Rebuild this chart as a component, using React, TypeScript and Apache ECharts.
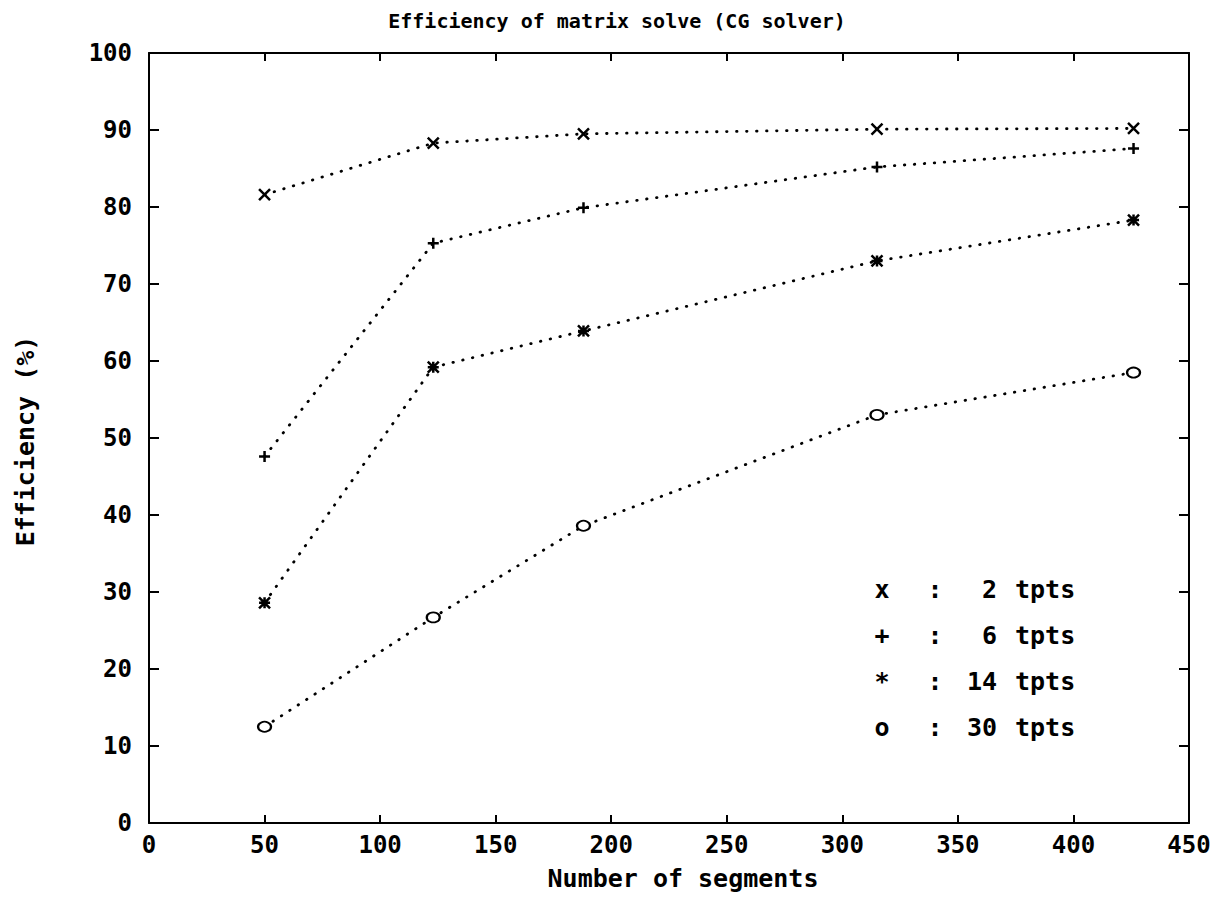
import React, { useEffect, useRef } from "react";
import * as echarts from "echarts";

const segments = [50, 123, 188, 315, 426];
const eff2 = [81.6, 88.3, 89.5, 90.1, 90.2];
const eff6 = [47.6, 75.3, 79.9, 85.2, 87.6];
const eff14 = [28.6, 59.2, 63.9, 73.0, 78.3];
const eff30 = [12.5, 26.7, 38.6, 53.0, 58.5];

const xTicks = { min: 0, max: 450, interval: 50 };
const yTicks = { min: 0, max: 100, interval: 10 };

const legendRows = [
  { sym: "x", n: "2" },
  { sym: "+", n: "6" },
  { sym: "*", n: "14" },
  { sym: "o", n: "30" },
];

const FONT = "DejaVu Sans Mono";

const SYM_X = "path://M0,0L10,10M10,0L0,10";
const SYM_PLUS = "path://M5,0L5,10M0,5L10,5";
const SYM_STAR = "path://M0,0L10,10M10,0L0,10M0,5L10,5M5,0L5,10";

export default function App() {
  const ref = useRef<HTMLDivElement>(null);
  useEffect(() => {
    if (!ref.current) return;
    const chart = echarts.init(ref.current, null, { renderer: "svg" });
    const black = "#000";
    const axisLine = { show: true, onZero: false, lineStyle: { color: black, width: 2 } };
    const tickStyle = { color: black, width: 2 };
    const labelStyle = { fontFamily: FONT, fontWeight: "bold" as const, fontSize: 24, color: black };
    const mk = (vals: number[], symbol: string, size: any) => ({
      type: "line",
      data: segments.map((s, i) => [s, vals[i]]),
      symbol,
      symbolSize: size,
      showAllSymbol: true,
      lineStyle: { color: black, width: 2.8, type: [0.5, 9.5], cap: "round" },
      itemStyle: {
        color: black,
        borderColor: black,
        borderWidth: 2.5,
      },
      z: 3,
    });
    const legendGraphics: any[] = [];
    legendRows.forEach((r, i) => {
      const y = 589 + i * 46;
      const st = { fontFamily: FONT, fontWeight: "bold", fontSize: 25, fill: black, verticalAlign: "middle" };
      legendGraphics.push({ type: "text", x: 882, y, style: { ...st, text: r.sym, align: "center" } });
      legendGraphics.push({ type: "text", x: 935, y, style: { ...st, text: ":", align: "center" } });
      legendGraphics.push({ type: "text", x: 997, y, style: { ...st, text: r.n, align: "right" } });
      legendGraphics.push({ type: "text", x: 1015, y, style: { ...st, text: "tpts", align: "left" } });
    });
    chart.setOption({
      animation: false,
      backgroundColor: "#fff",
      grid: { left: 149, top: 53, right: 38, bottom: 95 },
      xAxis: [
        {
          type: "value",
          ...xTicks,
          position: "bottom",
          axisLine,
          axisTick: { show: true, inside: true, length: 8, lineStyle: tickStyle },
          axisLabel: { ...labelStyle, margin: 10, showMinLabel: true, showMaxLabel: true },
          splitLine: { show: false },
        },
        {
          type: "value",
          ...xTicks,
          position: "top",
          axisLine,
          axisTick: { show: true, inside: true, length: 8, lineStyle: tickStyle },
          axisLabel: { show: false },
          splitLine: { show: false },
        },
      ],
      yAxis: [
        {
          type: "value",
          ...yTicks,
          position: "left",
          axisLine,
          axisTick: { show: true, inside: true, length: 10, lineStyle: tickStyle },
          axisLabel: { ...labelStyle, margin: 17, showMinLabel: true, showMaxLabel: true },
          splitLine: { show: false },
        },
        {
          type: "value",
          ...yTicks,
          position: "right",
          axisLine,
          axisTick: { show: true, inside: true, length: 10, lineStyle: tickStyle },
          axisLabel: { show: false },
          splitLine: { show: false },
        },
      ],
      series: [
        mk(eff2, SYM_X, 11),
        mk(eff6, SYM_PLUS, 11),
        mk(eff14, SYM_STAR, 11),
        mk(eff30, "emptyCircle", [13, 10]),
      ],
      graphic: [
        {
          type: "text",
          x: 617,
          y: 21,
          style: {
            text: "Efficiency of matrix solve (CG solver)",
            fontFamily: FONT,
            fontWeight: "bold",
            fontSize: 20,
            fill: black,
            align: "center",
            verticalAlign: "middle",
          },
        },
        {
          type: "text",
          x: 683,
          y: 878,
          style: {
            text: "Number of segments",
            fontFamily: FONT,
            fontWeight: "bold",
            fontSize: 25,
            fill: black,
            align: "center",
            verticalAlign: "middle",
          },
        },
        {
          type: "text",
          x: 25,
          y: 441,
          rotation: Math.PI / 2,
          style: {
            text: "Efficiency (%)",
            fontFamily: FONT,
            fontWeight: "bold",
            fontSize: 25,
            fill: black,
            align: "center",
            verticalAlign: "middle",
          },
        },
        ...legendGraphics,
      ],
    });
    return () => chart.dispose();
  }, []);
  return (
    <div
      ref={ref}
      style={{ position: "fixed", left: 0, top: 0, width: 1227, height: 918, background: "#fff" }}
    />
  );
}
